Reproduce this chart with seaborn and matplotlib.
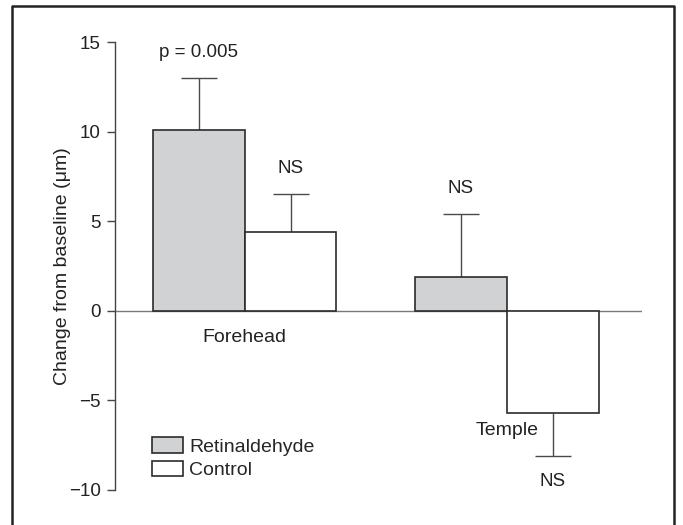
import matplotlib
matplotlib.use("Agg")
import matplotlib.pyplot as plt
from matplotlib.lines import Line2D
from matplotlib.patches import Patch
import numpy as np
import seaborn as sns
import pandas as pd

# Mean change from baseline (µm) with one-sided error bars
sites = ["Forehead", "Forehead", "Temple", "Temple"]
groups = ["Retinaldehyde", "Control", "Retinaldehyde", "Control"]
change = [10.1, 4.4, 1.9, -5.7]
err = [2.9, 2.1, 3.5, 2.4]
notes = ["p = 0.005", "NS", "NS", "NS"]

site_order = ["Forehead", "Temple"]
group_order = ["Retinaldehyde", "Control"]
yticks = [-10, -5, 0, 5, 10, 15]
colors = {"Retinaldehyde": "#d1d2d4", "Control": "#ffffff"}

df = pd.DataFrame({"site": sites, "group": groups, "change": change,
                   "err": err, "note": notes})

sns.set_theme(style="white")
plt.rcParams["font.family"] = ["Liberation Sans", "DejaVu Sans"]
plt.rcParams["axes.unicode_minus"] = True

W, H = 683, 525
fig = plt.figure(figsize=(W / 100, H / 100), dpi=100)
ax = fig.add_axes([114.5 / W, (H - 489.7) / H, (642 - 114.5) / W, (489.7 - 42.2) / H])

edge = "#2b2b2b"
txt = "#222222"
sns.barplot(data=df, x="site", y="change", hue="group",
            order=site_order, hue_order=group_order, palette=colors,
            width=0.7, errorbar=None, edgecolor=edge, linewidth=1.2,
            legend=False, ax=ax, zorder=3)

ax.axhline(0, color="#7a7a7a", lw=1.0, zorder=1)

# one-sided error bars and significance notes, pointing away from zero
for group, container in zip(group_order, ax.containers):
    for site, bar in zip(site_order, container):
        row = df[(df["site"] == site) & (df["group"] == group)].iloc[0]
        x = bar.get_x() + bar.get_width() / 2
        v, e = float(row["change"]), float(row["err"])
        up = v >= 0
        yerr = [[0.0 if up else e], [e if up else 0.0]]
        _, caps, _ = ax.errorbar(x, v, yerr=yerr, fmt="none", ecolor="#4a4a4a",
                                 elinewidth=1.0, capsize=13, capthick=1.0, zorder=2)
        for cap in caps:
            if np.allclose(cap.get_ydata(), v):
                cap.set_visible(False)
        ty = v + (e + 1.45) if up else v - (e + 1.45)
        ax.text(x, ty, row["note"], ha="center", va="center",
                fontsize=13.5, color=txt)

# site names written inside the plot area
site_label_y = {"Forehead": -1.5, "Temple": -6.7}
for i, site in enumerate(site_order):
    ax.text(i, site_label_y[site], site, ha="center", va="center",
            fontsize=14, color=txt)

ax.set_xlim(-0.496, 1.515)
ax.set_ylim(-10, 15)
ax.set_yticks(yticks)
ax.set_xticks([])
ax.set_xlabel("")
ax.set_ylabel("Change from baseline (μm)", fontsize=14, color=txt)
ax.yaxis.set_label_coords(-0.083, 0.5)
ax.tick_params(axis="y", left=True, direction="out", length=6, width=1,
               color="#444444", labelsize=13.5, labelcolor=txt, pad=4)
for side in ["top", "right", "bottom"]:
    ax.spines[side].set_visible(False)
ax.spines["left"].set_color("#444444")
ax.spines["left"].set_linewidth(1.0)
ax.set_facecolor("none")

handles = [Patch(facecolor=colors[g], edgecolor=edge, linewidth=1.2) for g in group_order]
fig.legend(handles, group_order, loc="upper left",
           bbox_to_anchor=(152 / W, 1 - 437 / H), frameon=False,
           borderpad=0, borderaxespad=0, handlelength=1.6, handleheight=0.88,
           handletextpad=0.3, labelspacing=0.25, fontsize=14)

# open box around the figure
fig.add_artist(Line2D([12 / W, 12 / W, 674 / W, 674 / W],
                      [0, 1 - 6 / H, 1 - 6 / H, 0],
                      transform=fig.transFigure, color="#222222", lw=1.8))

fig.savefig("out.png", dpi=100, facecolor="white")
